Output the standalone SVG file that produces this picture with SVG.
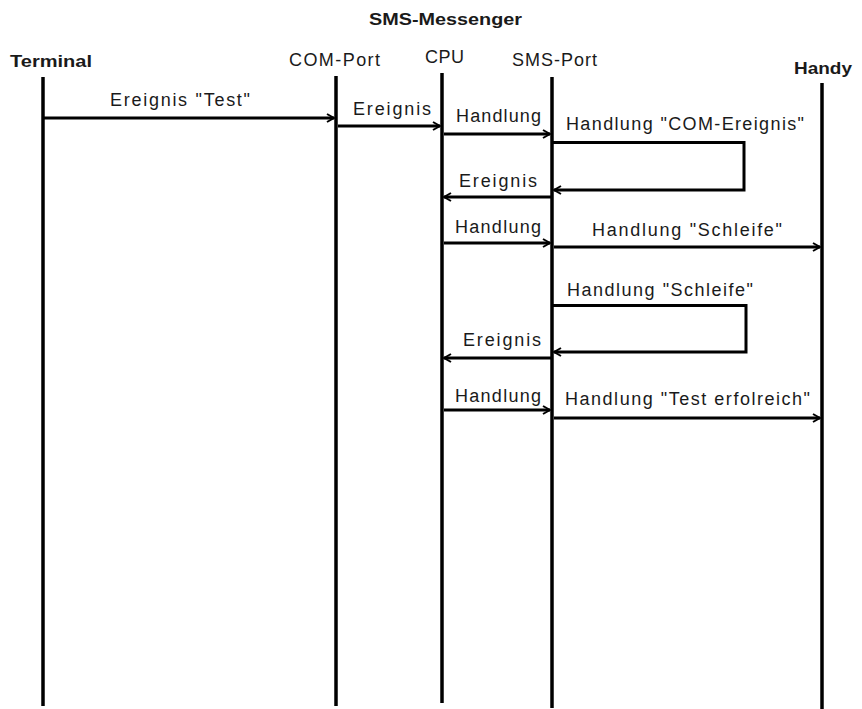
<svg xmlns="http://www.w3.org/2000/svg" width="862" height="709" viewBox="0 0 862 709">
<defs>
<marker id="ah" viewBox="0 0 10 10" refX="9" refY="5" markerWidth="10" markerHeight="10" markerUnits="userSpaceOnUse" orient="auto">
<path d="M2,1 L9,5 L2,9" fill="none" stroke="#000" stroke-width="2"/>
</marker>
<style>
.t{font-family:"Liberation Sans",Arial,sans-serif;font-size:18px;fill:#1a1a1a}
.b{font-family:"Liberation Sans",Arial,sans-serif;font-size:17px;font-weight:bold;fill:#1a1a1a}
.life{stroke:#000;stroke-width:3.5;fill:none}
.msg{stroke:#000;stroke-width:3;fill:none;marker-end:url(#ah)}
</style>
</defs>
<rect width="862" height="709" fill="#fff"/>
<text class="b" x="369" y="25" textLength="153" lengthAdjust="spacingAndGlyphs">SMS-Messenger</text>
<g id="terminal">
<text class="b" x="10" y="66.5" textLength="82" lengthAdjust="spacingAndGlyphs">Terminal</text>
<line class="life" x1="43" y1="77" x2="43" y2="706"/>
</g>
<g id="com-port">
<text class="t" x="289" y="66" textLength="91" lengthAdjust="spacing">COM-Port</text>
<line class="life" x1="336" y1="76" x2="336" y2="706"/>
</g>
<g id="cpu">
<text class="t" x="425" y="63" textLength="39" lengthAdjust="spacing">CPU</text>
<line class="life" x1="442" y1="73" x2="442" y2="703"/>
</g>
<g id="sms-port">
<text class="t" x="512" y="66" textLength="85" lengthAdjust="spacing">SMS-Port</text>
<line class="life" x1="552" y1="77" x2="552" y2="708"/>
</g>
<g id="handy">
<text class="b" x="794" y="74" textLength="58" lengthAdjust="spacingAndGlyphs">Handy</text>
<line class="life" x1="822" y1="83" x2="822" y2="712"/>
</g>
<g id="connectors">
<line class="msg" x1="44" y1="118" x2="334" y2="118"/>
<line class="msg" x1="338" y1="126" x2="440" y2="126"/>
<line class="msg" x1="444" y1="134" x2="550" y2="134"/>
<polyline class="msg" points="553,142.5 744,142.5 744,190 554,190"/>
<line class="msg" x1="551" y1="197" x2="444" y2="197"/>
<line class="msg" x1="444" y1="243" x2="550" y2="243"/>
<line class="msg" x1="554" y1="247" x2="820" y2="247"/>
<polyline class="msg" points="553,305.5 746,305.5 746,352 554,352"/>
<line class="msg" x1="551" y1="358" x2="444" y2="358"/>
<line class="msg" x1="444" y1="410" x2="550" y2="410"/>
<line class="msg" x1="554" y1="418" x2="820" y2="418"/>
</g>
<g id="labels">
<text class="t" x="110" y="106" textLength="140" lengthAdjust="spacing">Ereignis "Test"</text>
<text class="t" x="353" y="115" textLength="78" lengthAdjust="spacing">Ereignis</text>
<text class="t" x="456" y="122" textLength="85" lengthAdjust="spacing">Handlung</text>
<text class="t" x="566" y="130" textLength="238" lengthAdjust="spacing">Handlung "COM-Ereignis"</text>
<text class="t" x="459" y="187" textLength="78" lengthAdjust="spacing">Ereignis</text>
<text class="t" x="455" y="233" textLength="86" lengthAdjust="spacing">Handlung</text>
<text class="t" x="592" y="236" textLength="190" lengthAdjust="spacing">Handlung "Schleife"</text>
<text class="t" x="567" y="296" textLength="186" lengthAdjust="spacing">Handlung "Schleife"</text>
<text class="t" x="463" y="346" textLength="78" lengthAdjust="spacing">Ereignis</text>
<text class="t" x="455" y="402" textLength="86" lengthAdjust="spacing">Handlung</text>
<text class="t" x="565" y="405" textLength="245" lengthAdjust="spacing">Handlung "Test erfolreich"</text>
</g>
</svg>
